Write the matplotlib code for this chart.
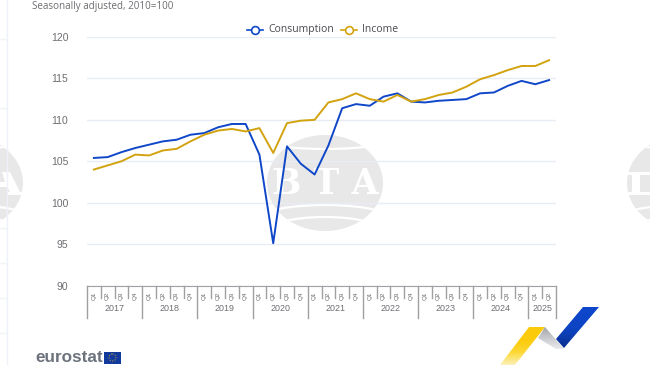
import numpy as np
from matplotlib import pyplot as plt
from matplotlib.colors import LinearSegmentedColormap
from matplotlib.patches import Polygon, Ellipse, Rectangle, Arc

quarters = ['Q1', 'Q2', 'Q3', 'Q4'] * 8 + ['Q1', 'Q2']
years = ['2017', '2018', '2019', '2020', '2021', '2022', '2023', '2024', '2025']
yticks = [90, 95, 100, 105, 110, 115, 120]
consumption = [105.4, 105.5, 106.1, 106.6, 107.0, 107.4, 107.6, 108.2,
               108.4, 109.1, 109.5, 109.5, 105.8, 95.1, 106.8, 104.7,
               103.4, 106.9, 111.4, 111.9, 111.7, 112.8, 113.2, 112.2,
               112.1, 112.3, 112.4, 112.5, 113.2, 113.3, 114.1, 114.7,
               114.3, 114.8]
income = [104.0, 104.5, 105.0, 105.8, 105.7, 106.3, 106.5, 107.4,
          108.2, 108.7, 108.9, 108.6, 109.0, 106.0, 109.6, 109.9,
          110.0, 112.1, 112.5, 113.2, 112.5, 112.2, 113.0, 112.2,
          112.5, 113.0, 113.3, 114.0, 114.9, 115.4, 116.0, 116.5,
          116.5, 117.2]

BLUE = '#0f47c8'
GOLD = '#d2a30f'
GREY = '#6e6e73'
MARK = '#e8e8e8'
W, H = 650, 365

plt.rcParams['font.family'] = ['Open Sans', 'DejaVu Sans']

fig = plt.figure(figsize=(W / 100, H / 100), dpi=100)

# page layer in pixel coordinates, y pointing down
bg = fig.add_axes([0, 0, 1, 1])
bg.set_xlim(0, W)
bg.set_ylim(H, 0)
bg.axis('off')


def watermark(cx, cy=183):
    disc = Ellipse((cx, cy), 116, 96, fc=MARK, ec='none')
    bg.add_patch(disc)
    for dy, w, h in ((-52, 170, 36), (46, 170, 48), (50, 120, 32)):
        a = Arc((cx, cy + dy), w, h, color='white', lw=1.6)
        bg.add_patch(a)
        a.set_clip_path(disc)


for cx in (-35, 325, 685):
    watermark(cx)

bg.text(325, 183.5, 'B T A', color='white', fontsize=25, fontweight='bold',
        family='DejaVu Serif', ha='center', va='center')

# cut off letters of the side watermarks
bg.add_patch(Polygon([(2, 172), (10, 172), (20, 192), (23, 192), (23, 195),
                      (8, 195), (8, 192), (10, 192), (7, 187), (0, 187),
                      (0, 182), (5, 182)], fc='white', ec='none'))
bg.add_patch(Rectangle((627, 172), 23, 3, fc='white', ec='none'))
bg.add_patch(Rectangle((627, 192), 23, 3, fc='white', ec='none'))
bg.add_patch(Rectangle((632, 172), 8, 23, fc='white', ec='none'))

# faint page panel at the left
bg.plot([6.5, 6.5], [0, H], color='#eef2f8', lw=1)
for yy in (39, 108, 228, 263, 298, 333):
    bg.plot([0, 6.5], [yy, yy], color='#f0f3f8', lw=1)

# plot area
x0, x1, y90, y120 = 87, 556, 285.5, 37
ax = fig.add_axes([x0 / W, 1 - y90 / H, (x1 - x0) / W, (y90 - y120) / H])
ax.patch.set_alpha(0)
x = np.arange(len(quarters))
ax.set_xlim(-0.5, len(quarters) - 0.5)
ax.set_ylim(90, 120)
ax.set_yticks(yticks)
ax.tick_params(axis='y', length=0, labelsize=7.5, labelcolor=GREY, pad=13.5)
for lab in ax.get_yticklabels():
    lab.set_family('Liberation Sans')
ax.grid(axis='y', color='#e8edf5', lw=1)
ax.set_axisbelow(True)
for s in ('top', 'left', 'right'):
    ax.spines[s].set_visible(False)
ax.spines['bottom'].set_color('#a0a0a4')

ax.plot(x, consumption, color=BLUE, lw=1.4, label='Consumption', clip_on=False)
ax.plot(x, income, color=GOLD, lw=1.4, label='Income', clip_on=False)

# two level category axis
ax.set_xticks(x)
ax.set_xticklabels(quarters, rotation=90, fontsize=4.6, color=GREY,
                   family='Liberation Sans')
ax.tick_params(axis='x', length=0, pad=4.5)
tr = ax.get_xaxis_transform()
for i in range(len(quarters) + 1):
    major = i % 4 == 0 or i == len(quarters)
    ax.plot([i - 0.5, i - 0.5], [0, -0.129 if major else -0.052], transform=tr,
            color='#a0a0a4', lw=1, clip_on=False)
for i, year in enumerate(years):
    n = 2 if year == '2025' else 4
    ax.text(i * 4 - 0.5 + n / 2, -0.093, year, transform=tr, fontsize=6.4,
            color=GREY, ha='center', va='center', family='Liberation Sans')

# legend
leg_y = 29.5
for lx, col, name in ((255, BLUE, 'Consumption'), (349, GOLD, 'Income')):
    bg.plot([lx - 8, lx + 8], [leg_y, leg_y], color=col, lw=1.2, zorder=5)
    bg.plot([lx], [leg_y], 'o', ms=5.6, mfc='white', mec=col, mew=1.2, zorder=6)
    bg.text(lx + 13, leg_y, name, fontsize=7.5, color='#4a4a50', va='center')

bg.text(32, 6, 'Seasonally adjusted, 2010=100', fontsize=7.1, color=GREY,
        va='center')

# eurostat logo
bg.text(35, 357, 'eurostat', fontsize=12.3, fontweight='bold', color='#6d737c',
        va='center', family='Liberation Sans')
bg.add_patch(Rectangle((104, 351.5), 17, 12, fc='#123a9c', ec='none'))
bg.add_patch(Ellipse((112.5, 357.5), 7, 7, fc='none', ec='#d8b52a', lw=0.7, ls=':'))

# ribbon logo with gradient fills
yellow = Polygon([(500, 365), (529, 327), (545, 327), (515, 365)], fc='none', ec='none')
grey_part = Polygon([(538, 338), (545, 327), (564, 349), (556, 349)], fc='none', ec='none')
blue_part = Polygon([(556, 339), (583, 307), (599, 307), (564, 348)], fc='none', ec='none')
fills = ((yellow, ['#fbf0b8', '#fdd835', '#fbcb0a', '#fbcb0a'], (495, 550, 365, 327)),
         (grey_part, ['#e8e9ec', '#c8cace', '#a4a5a8'], (535, 568, 349, 327)),
         (blue_part, ['#0a2f8e', '#0d44c4', '#0d47cc'], (552, 602, 349, 307)))
for poly, cols, ext in fills:
    bg.add_patch(poly)
    cmap = LinearSegmentedColormap.from_list('r', cols)
    # rows run from the lower edge of the shape up to its top
    im = bg.imshow(np.linspace(0, 1, 64).reshape(-1, 1), cmap=cmap, aspect='auto',
                   extent=(ext[0], ext[1], ext[2], ext[3]), origin='lower')
    im.set_clip_path(poly)
bg.set_xlim(0, W)
bg.set_ylim(H, 0)

fig.savefig('out.png', dpi=100)
